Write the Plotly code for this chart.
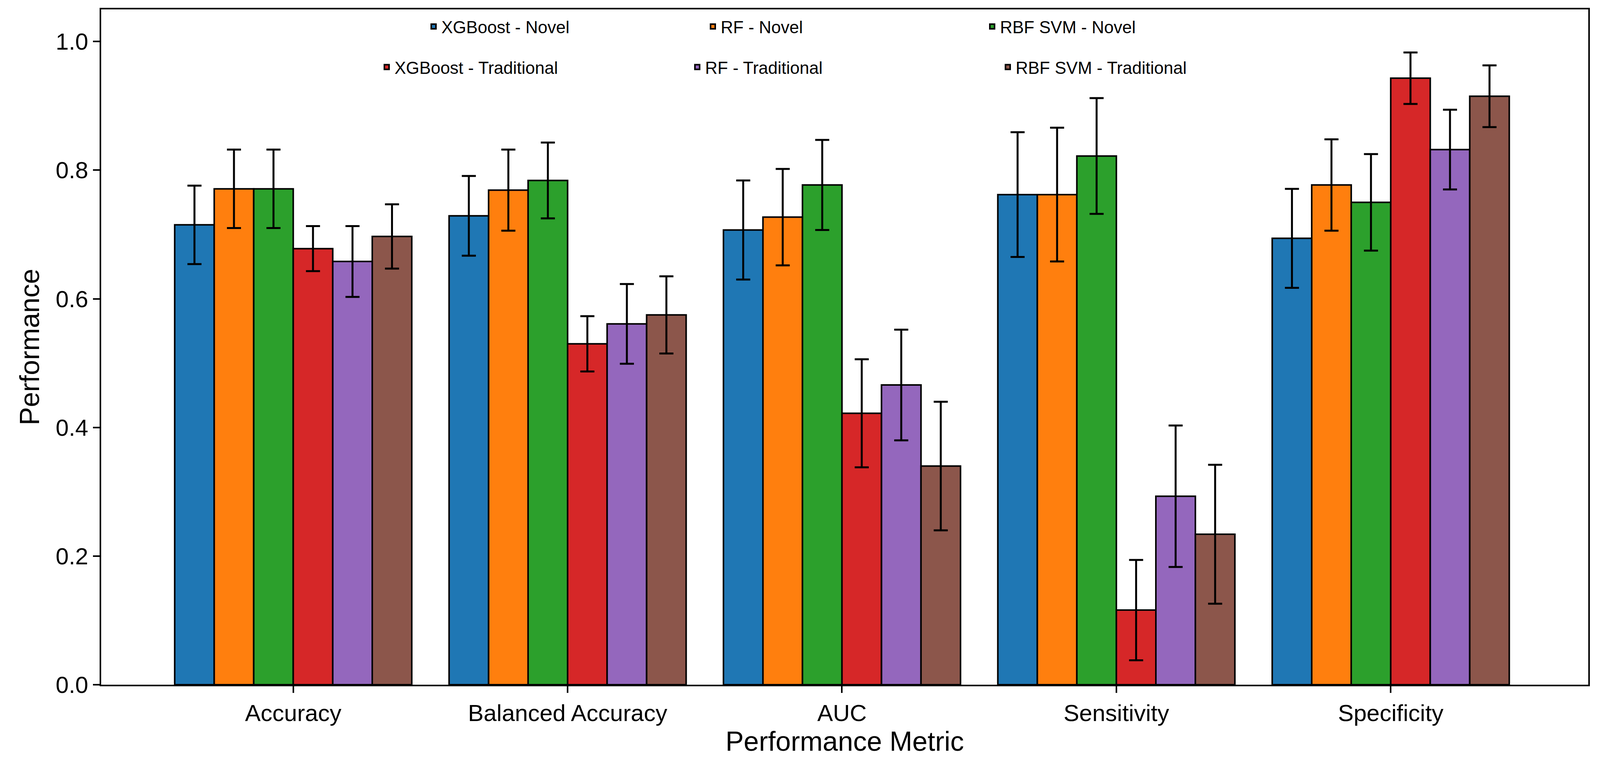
import plotly.graph_objects as go

metrics = ["Accuracy", "Balanced Accuracy", "AUC", "Sensitivity", "Specificity"]

models = ["XGBoost - Novel", "RF - Novel", "RBF SVM - Novel",
          "XGBoost - Traditional", "RF - Traditional", "RBF SVM - Traditional"]
colors = ["#1f77b4", "#ff7f0e", "#2ca02c", "#d62728", "#9467bd", "#8c564b"]

xgb_novel = [0.715, 0.729, 0.707, 0.762, 0.694]
rf_novel = [0.771, 0.769, 0.727, 0.762, 0.777]
svm_novel = [0.771, 0.784, 0.777, 0.822, 0.750]
xgb_trad = [0.678, 0.530, 0.422, 0.116, 0.943]
rf_trad = [0.658, 0.561, 0.466, 0.293, 0.832]
svm_trad = [0.697, 0.575, 0.340, 0.234, 0.915]

xgb_novel_err = [0.061, 0.062, 0.077, 0.097, 0.077]
rf_novel_err = [0.061, 0.063, 0.075, 0.104, 0.071]
svm_novel_err = [0.061, 0.059, 0.070, 0.090, 0.075]
xgb_trad_err = [0.035, 0.043, 0.084, 0.078, 0.040]
rf_trad_err = [0.055, 0.062, 0.086, 0.110, 0.062]
svm_trad_err = [0.050, 0.060, 0.100, 0.108, 0.048]

values = [xgb_novel, rf_novel, svm_novel, xgb_trad, rf_trad, svm_trad]
errors = [xgb_novel_err, rf_novel_err, svm_novel_err, xgb_trad_err, rf_trad_err, svm_trad_err]

fig = go.Figure()
for i, (name, vals, errs, col) in enumerate(zip(models, values, errors, colors)):
    fig.add_trace(go.Bar(
        x=metrics, y=vals, name=name,
        marker=dict(color=col, line=dict(color="black", width=4)),
        error_y=dict(type="data", array=errs, color="black", thickness=5, width=18),
        legend="legend" if i < 3 else "legend2",
    ))

font = "Liberation Sans, Arial, sans-serif"
leg = dict(orientation="h", xanchor="center", x=0.5, yanchor="top",
           font=dict(family=font, size=44, color="black"), bgcolor="rgba(0,0,0,0)")

fig.update_layout(
    autosize=True,
    template="plotly_white",
    barmode="group", bargap=0.136, bargroupgap=0,
    margin=dict(l=251, r=22, t=14, b=200),
    font=dict(family=font, size=60, color="black"),
    legend=dict(leg, y=0.995, entrywidth=670),
    legend2=dict(leg, y=0.935, entrywidth=750),
    xaxis=dict(title=dict(text="Performance Metric", font=dict(size=70), standoff=10),
               range=[-0.7, 4.72], showline=True, linecolor="black", linewidth=4,
               mirror=True, ticks="outside", ticklen=17, tickwidth=4, tickcolor="black",
               showgrid=False),
    yaxis=dict(title=dict(text="Performance", font=dict(size=70), standoff=20),
               range=[0, 1.05], dtick=0.2, tickformat=".1f",
               showline=True, linecolor="black", linewidth=4, mirror=True,
               ticks="outside", ticklen=17, tickwidth=4, tickcolor="black",
               showgrid=False, zeroline=False),
)

fig.write_html("out.html")
